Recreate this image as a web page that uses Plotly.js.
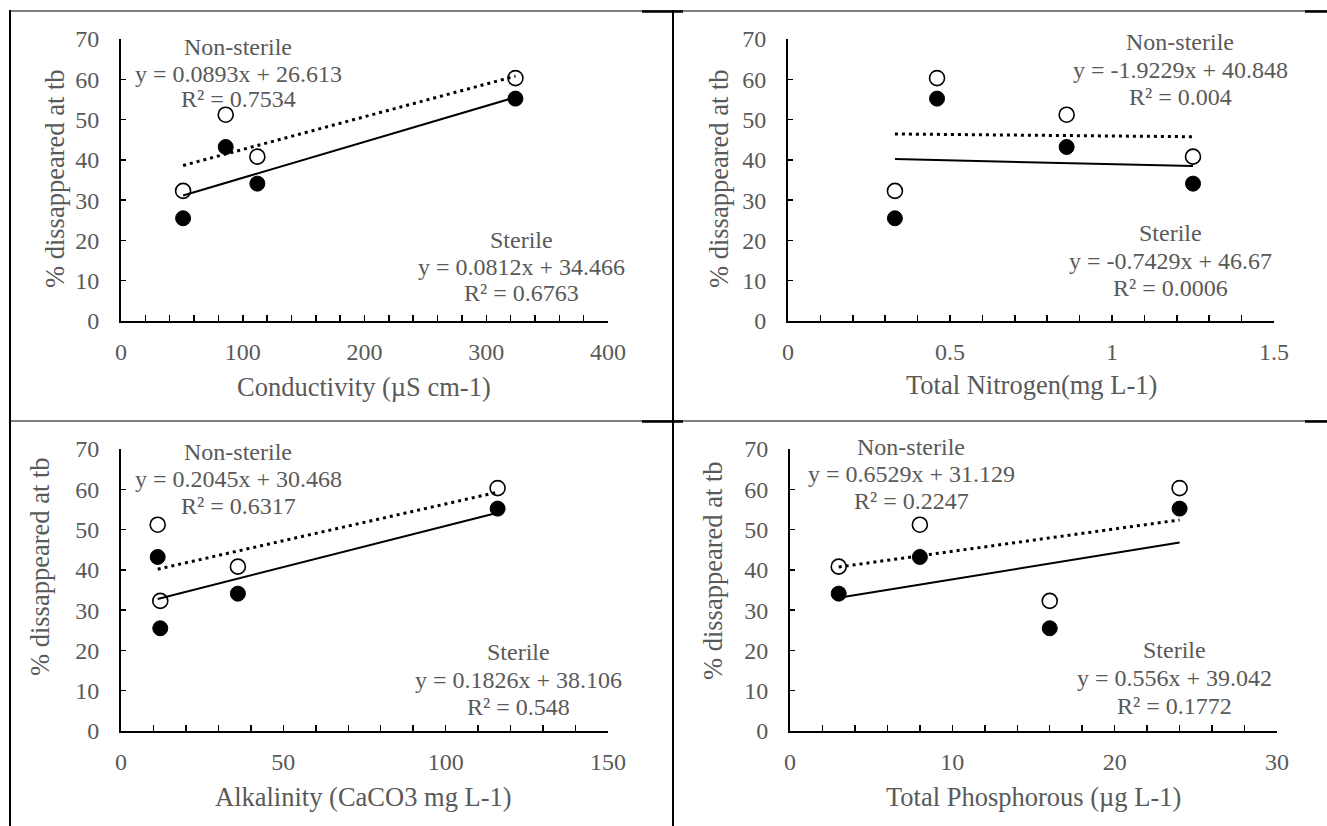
<!DOCTYPE html>
<html>
<head>
<meta charset="utf-8">
<script src="https://cdn.plot.ly/plotly-3.0.1.min.js"></script>
<style>
  html, body { margin: 0; padding: 0; background: #ffffff; }
  #chart { width: 1327px; height: 826px; }
</style>
</head>
<body>
<div id="chart"></div>
<script>
// Percentage disappeared at tb for the four sampling sites (A, B, C, D)
const sterilePct    = [32.3, 51.2, 40.8, 60.3];   // open circles, dotted fit
const nonSterilePct = [25.5, 43.2, 34.1, 55.2];   // filled circles, solid fit

// Water-quality variables for the same four sites
const siteConductivity = [51, 86, 112, 324];
const siteNitrogen     = [0.33, 0.86, 1.25, 0.46];
const siteAlkalinity   = [12.1, 11.3, 36, 116];
const sitePhosphorus   = [16, 8, 3, 24];

// Linear fits shown on each panel
const nonSterileSlope     = [0.0893, -1.9229, 0.2045, 0.6529];
const nonSterileIntercept = [26.613, 40.848, 30.468, 31.129];
const nonSterileR2        = [0.7534, 0.004, 0.6317, 0.2247];
const sterileSlope        = [0.0812, -0.7429, 0.1826, 0.556];
const sterileIntercept    = [34.466, 46.67, 38.106, 39.042];
const sterileR2           = [0.6763, 0.0006, 0.548, 0.1772];

// Axis titles and ranges
const xTitles = ["Conductivity (µS cm-1)", "Total Nitrogen(mg L-1)",
                 "Alkalinity (CaCO3 mg L-1)", "Total Phosphorous (µg L-1)"];
const yTitle = "% dissappeared at tb";
const xMax = [400, 1.5, 150, 30];
const xLabelStep = [100, 0.5, 50, 10];
const xMinorStep = [20, 0.1, 10, 2];
const yMax = 70;
const yStep = 10;

const xValues = [siteConductivity, siteNitrogen, siteAlkalinity, sitePhosphorus];

// ---- page geometry (pixels) ----
const W = 1327, H = 826;
const px = v => v / W;
const py = v => 1 - v / H;

// plot boxes: [left, right, top, bottom]
const boxes = [
  [121, 608, 39, 321],
  [788, 1274, 39, 321],
  [121, 608, 449, 731],
  [790, 1277, 449, 731]
];
const yTitlePos  = [[55, 179], [719, 179], [40, 567], [713, 571]];
const xTitlePos  = [[364, 387], [1031, 385], [363, 797], [1033, 797]];
const topBlock   = [[238, [47, 74, 99]], [1180, [42, 70, 97]], [238, [452, 479, 506]], [911, [447, 474, 501]]];
const lowBlock   = [[521, [240, 267, 293]], [1170, [233, 261, 288]], [518, [652, 680, 707]], [1174, [650, 678, 706]]];

const textColor = "#595959";
const fontFamily = "'Liberation Serif', 'Times New Roman', serif";
const labelSize = 24;   // equations and tick labels
const titleSize = 26.5; // axis titles

const traces = [];
const layout = {
  width: W, height: H,
  margin: {l: 0, r: 0, t: 0, b: 0},
  paper_bgcolor: "#ffffff",
  plot_bgcolor: "rgba(0,0,0,0)",
  showlegend: false,
  font: {family: fontFamily, size: labelSize, color: textColor},
  annotations: [],
  shapes: []
};

function eqText(slope, intercept) {
  const sign = intercept < 0 ? " - " : " + ";
  return "y = " + slope + "x" + sign + Math.abs(intercept);
}

for (let i = 0; i < 4; i++) {
  const n = i === 0 ? "" : String(i + 1);
  const xa = "x" + n, ya = "y" + n;
  const b = boxes[i];
  const xs = xValues[i];

  layout["xaxis" + n] = {
    domain: [px(b[0]), px(b[1])],
    anchor: ya,
    range: [0, xMax[i]],
    dtick: xLabelStep[i], tick0: 0,
    ticks: "inside", ticklen: 6, tickwidth: 1.5, tickcolor: "#000",
    minor: {dtick: xMinorStep[i], tick0: 0, ticks: "inside", ticklen: 6, tickwidth: 1.5, tickcolor: "#000"},
    showline: true, linewidth: 2, linecolor: "#000",
    showgrid: false, zeroline: false,
    ticklabelstandoff: 8,
    tickfont: {family: fontFamily, size: labelSize, color: textColor},
    fixedrange: true
  };
  layout["yaxis" + n] = {
    domain: [py(b[3]), py(b[2])],
    anchor: xa,
    range: [0, yMax],
    dtick: yStep, tick0: 0,
    ticks: "inside", ticklen: 5, tickwidth: 1.5, tickcolor: "#000",
    showline: true, linewidth: 2, linecolor: "#000",
    showgrid: false, zeroline: false,
    ticklabelstandoff: 15,
    tickfont: {family: fontFamily, size: labelSize, color: textColor},
    fixedrange: true
  };

  // points
  traces.push({
    type: "scatter", mode: "markers", xaxis: xa, yaxis: ya,
    x: xs, y: sterilePct,
    marker: {symbol: "circle", size: 15, color: "#ffffff", line: {color: "#000", width: 1.6}},
    hoverinfo: "x+y"
  });
  traces.push({
    type: "scatter", mode: "markers", xaxis: xa, yaxis: ya,
    x: xs, y: nonSterilePct,
    marker: {symbol: "circle", size: 15, color: "#000000", line: {color: "#000", width: 1}},
    hoverinfo: "x+y"
  });

  // fitted lines over the data extent
  const x0 = Math.min(...xs), x1 = Math.max(...xs);
  traces.push({
    type: "scatter", mode: "lines", xaxis: xa, yaxis: ya,
    x: [x0, x1],
    y: [sterileSlope[i] * x0 + sterileIntercept[i], sterileSlope[i] * x1 + sterileIntercept[i]],
    line: {color: "#000", width: 3, dash: "3px,4px"},
    hoverinfo: "skip"
  });
  traces.push({
    type: "scatter", mode: "lines", xaxis: xa, yaxis: ya,
    x: [x0, x1],
    y: [nonSterileSlope[i] * x0 + nonSterileIntercept[i], nonSterileSlope[i] * x1 + nonSterileIntercept[i]],
    line: {color: "#000", width: 2},
    hoverinfo: "skip"
  });

  // axis titles
  layout.annotations.push({
    xref: "paper", yref: "paper", x: px(xTitlePos[i][0]), y: py(xTitlePos[i][1]),
    xanchor: "center", yanchor: "middle", showarrow: false, text: xTitles[i],
    font: {size: titleSize}
  });
  layout.annotations.push({
    xref: "paper", yref: "paper", x: px(yTitlePos[i][0]), y: py(yTitlePos[i][1]),
    xanchor: "center", yanchor: "middle", showarrow: false, textangle: -90, text: yTitle,
    font: {size: titleSize}
  });

  // equation blocks
  const topLines = ["Non-sterile", eqText(nonSterileSlope[i], nonSterileIntercept[i]), "R² = " + nonSterileR2[i]];
  const lowLines = ["Sterile", eqText(sterileSlope[i], sterileIntercept[i]), "R² = " + sterileR2[i]];
  [[topBlock[i], topLines], [lowBlock[i], lowLines]].forEach(([pos, lines]) => {
    lines.forEach((t, k) => {
      layout.annotations.push({
        xref: "paper", yref: "paper", x: px(pos[0]), y: py(pos[1][k]),
        xanchor: "center", yanchor: "middle", showarrow: false, text: t
      });
    });
  });
}

// table rules around the four panels
function rule(x0, y0, x1, y1, w) {
  layout.shapes.push({
    type: "line", xref: "paper", yref: "paper",
    x0: px(x0), y0: py(y0), x1: px(x1), y1: py(y1),
    line: {color: "#000", width: w}
  });
}
rule(9, 11, 1327, 11, 1.2);
rule(9, 421, 1327, 421, 1.2);
rule(642, 11.5, 683, 11.5, 2.5);
rule(1305, 11.5, 1327, 11.5, 2.5);
rule(642, 421.5, 683, 421.5, 2.5);
rule(1305, 421.5, 1327, 421.5, 2.5);
rule(10, 10, 10, 826, 2);
rule(673, 10, 673, 826, 2);

Plotly.newPlot("chart", traces, layout, {staticPlot: true, displayModeBar: false});
</script>
</body>
</html>
